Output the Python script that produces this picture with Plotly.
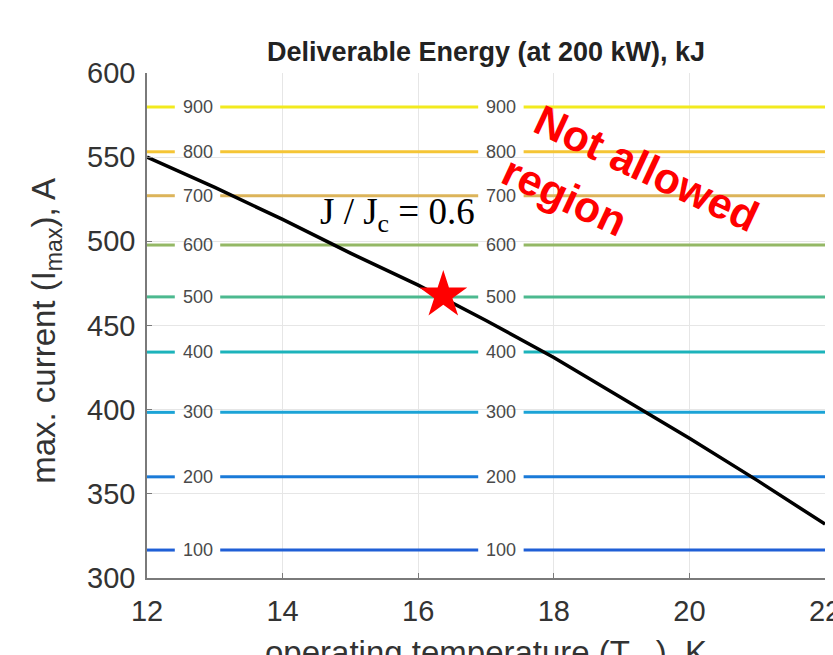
import plotly.graph_objects as go

# ---- data ----
temperature = [12, 13, 14, 15, 16, 17, 18, 19, 20, 21, 22]
max_current = [550, 532, 513, 493, 474, 453, 431, 407, 383, 358, 332]

energy_levels = [100, 200, 300, 400, 500, 600, 700, 800, 900]
level_current = [316.6, 360.1, 398.4, 434.2, 467.0, 497.8, 527.1, 553.2, 579.8]
level_colors = ["#1f5fd6", "#1a7ad8", "#1ba3d6", "#1cb3bb", "#4cb98f",
                "#94b865", "#dcb45a", "#f5c535", "#f2ea1e"]
label_x = [12.745, 17.22]
x_ticks = [12, 14, 16, 18, 20, 22]
y_ticks = [300, 350, 400, 450, 500, 550, 600]

star_T = 16.37
star_I = 468

gap = 0.335
x_min, x_max = 12, 22

fig = go.Figure()

# contour lines (with gaps for labels)
for lev, cur, col in zip(energy_levels, level_current, level_colors):
    xs = [x_min]
    for lx in label_x:
        xs += [lx - gap, None, lx + gap]
    xs += [x_max]
    ys = [cur if v is not None else None for v in xs]
    fig.add_trace(go.Scatter(x=xs, y=ys, mode="lines",
                             line=dict(color=col, width=3),
                             hoverinfo="skip", showlegend=False))
    for lx in label_x:
        fig.add_annotation(x=lx, y=cur, text=str(lev), showarrow=False,
                           font=dict(family="Liberation Sans", size=18, color="#4a4a4a"),
                           xanchor="center", yanchor="middle")

# J/Jc = 0.6 curve
fig.add_trace(go.Scatter(x=temperature, y=max_current, mode="lines",
                         line=dict(color="black", width=3.5),
                         showlegend=False))

# star
fig.add_trace(go.Scatter(x=[star_T], y=[star_I], mode="markers",
                         marker=dict(symbol="star", size=36, color="#ff0000",
                                     line=dict(width=0)),
                         showlegend=False))

fig.add_annotation(x=15.69, y=516.0, text="J / J<sub>c</sub> = 0.6", showarrow=False,
                   font=dict(family="Liberation Serif", size=37, color="black"),
                   xanchor="center", yanchor="middle")

fig.add_annotation(x=19.36, y=543.6, text="<b>Not allowed</b>", showarrow=False,
                   textangle=25,
                   font=dict(family="Liberation Sans", size=43, color="#ff0000"),
                   xanchor="center", yanchor="middle")
fig.add_annotation(x=18.165, y=526.9, text="<b>region</b>", showarrow=False,
                   textangle=25,
                   font=dict(family="Liberation Sans", size=43, color="#ff0000"),
                   xanchor="center", yanchor="middle")

# axis titles
fig.add_annotation(xref="paper", yref="paper", x=-0.150, y=0.49,
                   text="max. current (I<sub>max</sub>), A", showarrow=False,
                   textangle=-90,
                   font=dict(family="Liberation Sans", size=33, color="#333333"),
                   xanchor="center", yanchor="middle")
fig.add_annotation(xref="paper", yref="paper", x=0.5, y=-0.106,
                   text="operating temperature (T<sub>op</sub>), K", showarrow=False,
                   font=dict(family="Liberation Sans", size=33, color="#333333"),
                   xanchor="center", yanchor="top")

fig.update_layout(
    width=833, height=655,
    margin=dict(l=147, r=8, t=73, b=77, autoexpand=False),
    paper_bgcolor="white", plot_bgcolor="white",
    showlegend=False,
    title=dict(text="<b>Deliverable Energy (at 200 kW), kJ</b>",
               x=0.5, xref="paper", y=1 - 52 / 655, yref="container",
               xanchor="center", yanchor="middle",
               font=dict(family="Liberation Sans", size=27, color="#222222")),
)
fig.update_xaxes(range=[x_min, x_max], tickvals=x_ticks,
                 ticktext=[str(t) for t in x_ticks],
                 showgrid=True, gridcolor="#e6e6e6", gridwidth=1,
                 showline=True, linecolor="#7a7a7a", linewidth=1.5,
                 ticks="inside", ticklen=5, tickcolor="#7a7a7a",
                 ticklabeloverflow="allow", ticklabelstandoff=6,
                 automargin=False,
                 tickfont=dict(family="Liberation Sans", size=29, color="#333333"),
                 zeroline=False)
fig.update_yaxes(range=[300, 600], tickvals=y_ticks,
                 ticktext=[str(t) for t in y_ticks],
                 showgrid=True, gridcolor="#e6e6e6", gridwidth=1,
                 showline=True, linecolor="#7a7a7a", linewidth=1.5,
                 ticks="inside", ticklen=5, tickcolor="#7a7a7a",
                 ticklabelstandoff=4, automargin=False,
                 tickfont=dict(family="Liberation Sans", size=29, color="#333333"),
                 zeroline=False)

fig.write_html("out.html")
